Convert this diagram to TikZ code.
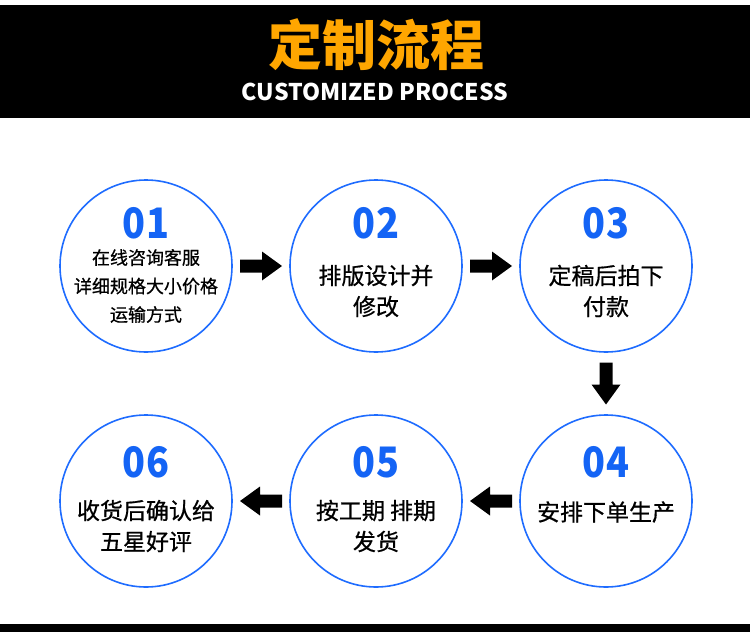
\documentclass[tikz,border=0pt]{standalone}
\usepackage{fontspec}
\setmainfont{Noto Sans CJK SC}
\newfontfamily\cjk{Noto Sans CJK SC}
\newfontfamily\cjkm[FakeBold=0.7]{Noto Sans CJK SC}
\usetikzlibrary{calc}
\definecolor{ringblue}{RGB}{30,108,255}
\definecolor{numblue}{RGB}{20,100,245}
\definecolor{titleorange}{RGB}{255,166,0}
\tikzset{
  stepcircle/.style={circle, draw=ringblue, line width=1.6pt, fill=white, minimum size=172pt, inner sep=0pt},
  stepnum/.style={font=\cjk\bfseries\fontsize{42}{42}\selectfont, text=numblue, inner sep=0pt, xscale=0.9},
  steptext/.style={font=\cjkm\fontsize{23}{31}\selectfont, align=center, inner sep=0pt, text=black},
  steptextsmall/.style={font=\cjkm\fontsize{18}{28.5}\selectfont, align=center, inner sep=0pt, text=black},
}
\newcommand\blkarrow[2]{\fill[black, shift={(#1)}, rotate=#2] (-21,-6.5) -- (1,-6.5) -- (1,-14.5) -- (21,0) -- (1,14.5) -- (1,6.5) -- (-21,6.5) -- cycle;}
\begin{document}
\begin{tikzpicture}[x=1pt,y=-1pt]
\useasboundingbox (0,0) rectangle (750,632);
\fill[white] (0,0) rectangle (750,632);
% header
\fill[black] (0,5) rectangle (750,118);
\node[font=\cjk\bfseries\fontsize{54}{54}\selectfont, text=titleorange, inner sep=0pt] (title) at (376,45) {定制流程};
\node[font=\cjk\bfseries\fontsize{23}{23}\selectfont, text=white, inner sep=0pt] (subtitle) at (375,92) {CUSTOMIZED PROCESS};
% footer
\fill[black] (0,624) rectangle (750,632);
% circles
\node[stepcircle] (c1) at (146,266) {};
\node[stepcircle] (c2) at (376,266) {};
\node[stepcircle] (c3) at (606,266) {};
\node[stepcircle] (c4) at (606,501) {};
\node[stepcircle] (c5) at (376,501) {};
\node[stepcircle] (c6) at (146,501) {};
% numbers
\node[stepnum] (n1) at ($(c1)+(0,-43)$) {01};
\node[stepnum] (n2) at ($(c2)+(0,-43)$) {02};
\node[stepnum] (n3) at ($(c3)+(0,-43)$) {03};
\node[stepnum] (n4) at ($(c4)+(0,-39)$) {04};
\node[stepnum] (n5) at ($(c5)+(0,-39)$) {05};
\node[stepnum] (n6) at ($(c6)+(0,-39)$) {06};
% texts
\node[steptextsmall] (t1) at ($(c1)+(0,20)$) {在线咨询客服\\详细规格大小价格\\运输方式};
\node[steptext] (t2) at ($(c2)+(0,25)$) {排版设计并\\修改};
\node[steptext] (t3) at ($(c3)+(0,25)$) {定稿后拍下\\付款};
\node[steptext] (t4) at ($(c4)+(0,11)$) {安排下单生产};
\node[steptext] (t5) at ($(c5)+(0,25)$) {按工期 排期\\发货};
\node[steptext] (t6) at ($(c6)+(0,25)$) {收货后确认给\\五星好评};
% arrows
\coordinate (a12) at ($(c1)!0.5!(c2)$);
\coordinate (a23) at ($(c2)!0.5!(c3)$);
\coordinate (a34) at ($(c3)!0.5!(c4)$);
\coordinate (a45) at ($(c4)!0.5!(c5)$);
\coordinate (a56) at ($(c5)!0.5!(c6)$);
\blkarrow{a12}{0}
\blkarrow{a23}{0}
\blkarrow{a34}{-90}
\blkarrow{a45}{180}
\blkarrow{a56}{180}
\end{tikzpicture}
\end{document}
